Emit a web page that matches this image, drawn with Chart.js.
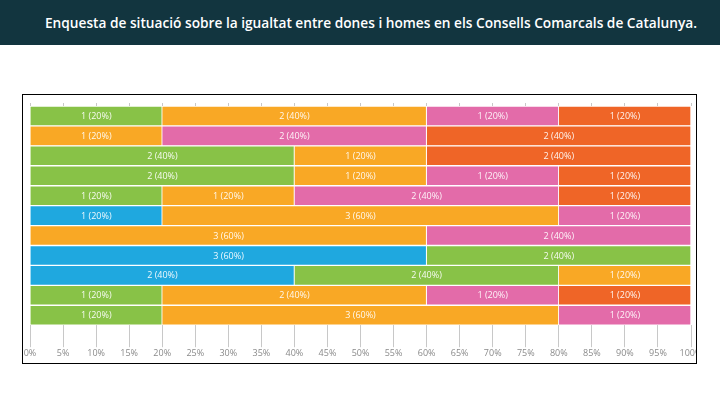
<!DOCTYPE html>
<html>
<head>
<meta charset="utf-8">
<script src="https://cdn.jsdelivr.net/npm/chart.js@4/dist/chart.umd.min.js"></script>
<style>
  html, body { margin: 0; padding: 0; background: #fff; }
  body { width: 720px; height: 405px; position: relative; overflow: hidden; }
  #header {
    position: absolute; left: 0; top: 0; width: 720px; height: 45px;
    background: #12353f; color: #fff;
    font: 600 13.7px "Open Sans", sans-serif;
  }
  #header span { position: absolute; left: 371px; top: 22px; transform: translate(-50%, -50%); white-space: nowrap; }
  #frame {
    position: absolute; left: 22px; top: 94px; width: 675px; height: 270px;
    border: 1px solid #000; box-sizing: border-box; overflow: hidden;
  }
  #chart { position: absolute; left: -23px; top: -95px; }
</style>
</head>
<body>
<div id="header"><span>Enquesta de situació sobre la igualtat entre dones i homes en els Consells Comarcals de Catalunya.</span></div>
<div id="frame"><canvas id="chart" width="720" height="405"></canvas></div>
<script>
// one row per question, 5 answers each
const rows = ["1", "2", "3", "4", "5", "6", "7", "8", "9", "10", "11"];
const blueCounts   = [0, 0, 0, 0, 0, 1, 0, 3, 2, 0, 0];
const greenCounts  = [1, 0, 2, 2, 1, 0, 0, 2, 2, 1, 1];
const orangeCounts = [2, 1, 1, 1, 1, 3, 3, 0, 1, 2, 3];
const pinkCounts   = [1, 2, 0, 1, 2, 1, 2, 0, 0, 1, 1];
const redCounts    = [1, 2, 2, 1, 1, 0, 0, 0, 0, 1, 0];
const xTicks = [0, 5, 10, 15, 20, 25, 30, 35, 40, 45, 50, 55, 60, 65, 70, 75, 80, 85, 90, 95, 100];

const series = [
  { counts: blueCounts, color: "#1fa8df" },
  { counts: greenCounts, color: "#88c247" },
  { counts: orangeCounts, color: "#f9a825" },
  { counts: pinkCounts, color: "#e36ba9" },
  { counts: redCounts, color: "#ef6527" },
];

const totals = rows.map((r, i) => series.reduce((s, d) => s + d.counts[i], 0));

const datasets = series.map(s => ({
  data: s.counts.map((c, i) => c / totals[i] * 100),
  counts: s.counts,
  backgroundColor: s.color,
  borderColor: "#ffffff",
  borderWidth: { top: 1, left: 0, right: 1, bottom: 1 },
  borderSkipped: false,
  barPercentage: 1,
  categoryPercentage: 1,
}));

// white "n (p%)" text in the middle of each segment
const segmentLabels = {
  id: "segmentLabels",
  afterDatasetsDraw(chart) {
    const ctx = chart.ctx;
    ctx.save();
    ctx.font = "9px 'Open Sans', sans-serif";
    ctx.fillStyle = "rgba(255,255,255,0.92)";
    ctx.textAlign = "center";
    ctx.textBaseline = "middle";
    chart.data.datasets.forEach((ds, di) => {
      chart.getDatasetMeta(di).data.forEach((bar, i) => {
        const c = ds.counts[i];
        if (!c) return;
        const pct = Math.round(ds.data[i]);
        ctx.fillText(c + " (" + pct + "%)", (bar.x + bar.base) / 2, bar.y + 0.5);
      });
    });
    ctx.restore();
  },
};

new Chart(document.getElementById("chart"), {
  type: "bar",
  data: { labels: rows, datasets: datasets },
  options: {
    indexAxis: "y",
    responsive: false,
    animation: false,
    layout: { padding: { left: 30, right: 29, top: 103, bottom: 45 } },
    plugins: { legend: { display: false }, tooltip: { enabled: false } },
    scales: {
      x: {
        stacked: true,
        min: 0,
        max: 100,
        afterBuildTicks: axis => { axis.ticks = xTicks.map(v => ({ value: v })); },
        grid: { drawOnChartArea: false, tickLength: 22, color: "#c8c8c8" },
        border: { display: false },
        ticks: {
          color: "#8a8a8a",
          font: { size: 9, family: "'Open Sans', sans-serif" },
          padding: 1,
          maxRotation: 0,
          autoSkip: false,
          callback: v => v + "%",
        },
      },
      x2: {
        type: "linear",
        position: "top",
        min: 0,
        max: 100,
        afterBuildTicks: axis => { axis.ticks = xTicks.map(v => ({ value: v })); },
        grid: { drawOnChartArea: false, tickLength: 3, color: "#c8c8c8" },
        border: { display: false },
        ticks: { display: false },
      },
      y: {
        stacked: true,
        display: false,
      },
    },
  },
  plugins: [segmentLabels],
});
</script>
</body>
</html>
